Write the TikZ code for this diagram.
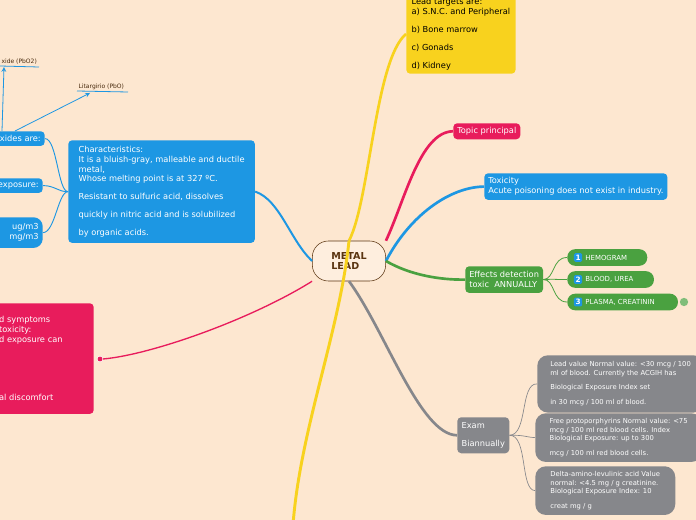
\documentclass[tikz,border=0pt]{standalone}
\usepackage{fontspec}
\setmainfont{DejaVu Sans}
\usetikzlibrary{positioning,calc}
\definecolor{bgc}{HTML}{FDE7D0}
\definecolor{yel}{HTML}{F8D21E}
\definecolor{rd}{HTML}{E81C5C}
\definecolor{bl}{HTML}{1D97E3}
\definecolor{gr}{HTML}{4AA140}
\definecolor{gy}{HTML}{86878B}
\definecolor{brn}{HTML}{5A3410}
\tikzset{
  box/.style={rounded corners=3pt, text=white, font=\fontsize{6.2}{7.4}\selectfont, align=left, anchor=north west, inner sep=3pt},
  pill/.style={rounded corners=6pt, fill=gr, text=white, font=\fontsize{5.2}{6}\selectfont, anchor=west, minimum height=12.5pt, inner xsep=5pt},
  numb/.style={fill=bl, text=white, font=\fontsize{5.5}{6}\selectfont\bfseries, inner sep=1.2pt, rounded corners=1pt},
  gbox/.style={rounded corners=8pt, fill=gy, text=white, font=\fontsize{5.1}{6.2}\selectfont, align=left, anchor=north west, inner sep=4pt}
}
\begin{document}
\begin{tikzpicture}[x=0.75pt,y=-0.75pt]
  \fill[bgc] (0,0) rectangle (696,520);
  \useasboundingbox (0,0) rectangle (696,520);
  \clip (0,0) rectangle (696,520);

  % centre
  \node[draw=brn, fill=bgc!70!white, rounded corners=12pt, minimum width=55pt, minimum height=30pt,
        font=\fontsize{7.2}{8}\selectfont\bfseries, text=brn, align=left] (lead) at (349,261) {METAL\\LEAD};

  % right side
  \node[box, fill=yel, text=black, minimum width=82pt, minimum height=59pt] (targets) at (406,-6)
    {Lead targets are:\\a) S.N.C. and Peripheral\\[6pt]b) Bone marrow\\[6pt]c) Gonads\\[6pt]d) Kidney};
  \node[box, fill=rd, minimum width=49pt, minimum height=12pt] (topic) at (453,123) {Topic principal};
  \node[box, fill=bl, minimum width=135pt, minimum height=20pt] (tox) at (484,173)
    {Toxicity\\Acute poisoning does not exist in industry.};
  \node[box, fill=gr, minimum width=57pt, minimum height=20pt] (eff) at (465,266)
    {Effects detection\\toxic \ ANNUALLY};
  \node[pill, minimum width=60pt] (hemo) at (567,257.5) {};
  \node[numb, right=5pt of hemo.west, anchor=west] (n1) {1};
  \node[right=0pt of n1, text=white, font=\fontsize{5.2}{6}\selectfont, inner sep=2pt] {HEMOGRAM};
  \node[pill, minimum width=65pt] (urea) at (567,279.5) {};
  \node[numb, right=5pt of urea.west, anchor=west] (n2) {2};
  \node[right=0pt of n2, text=white, font=\fontsize{5.2}{6}\selectfont, inner sep=2pt] {BLOOD, UREA};
  \node[pill, minimum width=83pt] (plasma) at (567,302) {};
  \node[numb, right=5pt of plasma.west, anchor=west] (n3) {3};
  \node[right=0pt of n3, text=white, font=\fontsize{5.2}{6}\selectfont, inner sep=2pt] {PLASMA, CREATININ};
  \node[circle, fill=gr!70, inner sep=2.2pt] (globe) at (684,302) {};

  \node[box, fill=gy, minimum width=39pt, minimum height=27pt] (exam) at (457,417) {Exam\\[6pt]Biannually};
  \node[gbox, minimum width=125pt, minimum height=43pt] (lv) at (537,355)
    {Lead value Normal value: <30 mcg / 100\\ml of blood. Currently the ACGIH has\\[5pt]Biological Exposure Index set\\[5pt]in 30 mcg / 100 ml of blood.};
  \node[gbox, minimum width=125pt, minimum height=36pt] (fp) at (535,413)
    {Free protoporphyrins Normal value: <75\\mcg / 100 ml red blood cells. Index\\Biological Exposure: up to 300\\[5pt]mcg / 100 ml red blood cells.};
  \node[gbox, minimum width=105pt, minimum height=35pt] (ala) at (535,466)
    {Delta-amino-levulinic acid Value\\normal: <4.5 mg / g creatinine.\\Biological Exposure Index: 10\\[5pt]creat mg / g};

  % left side
  \node[box, fill=bl, minimum width=140pt, minimum height=77pt] (char) at (68,140)
    {Characteristics:\\It is a bluish-gray, malleable and ductile\\metal,\\Whose melting point is at 327 ºC.\\[6pt]Resistant to sulfuric acid, dissolves\\[6pt]quickly in nitric acid and is solubilized\\[6pt]by organic acids.};
  \node[box, fill=bl, anchor=north east, minimum height=11pt, text width=60pt, align=right] (oxides) at (45,131) {xides are:};
  \node[box, fill=bl, anchor=north east, minimum height=11pt, text width=60pt, align=right] (expo) at (43,178) {exposure:};
  \node[box, fill=bl, anchor=north east, rounded corners=7pt, minimum height=23pt, text width=60pt, align=right] (limits) at (43,217) {ug/m3\hspace*{4pt}\\ mg/m3};
  \node[box, fill=rd, anchor=north east, text width=68pt, minimum height=83pt] (symp) at (94,303)
    {d symptoms\\toxicity:\\d exposure can\\[36pt]al discomfort};
  \node[fill=rd, draw=white, line width=0.3pt, inner sep=2pt, rounded corners=1pt] (note) at (100,359) {};
  \node[font=\fontsize{4.5}{5}\selectfont, text=brn!80!black, anchor=south west, inner sep=1pt] (pbo2) at (0,66) {xide (PbO2)};
  \coordinate (pbo2r) at (39,67);
  \node[font=\fontsize{4.5}{5}\selectfont, text=brn!80!black, anchor=south west, inner sep=1pt] (pbo) at (77,91) {Litargirio (PbO)};
  \coordinate (pbor) at (128,92);
  \coordinate (bottom) at (293,525);

  % connectors
  \draw[yel, line width=2pt] (lead.north) .. controls (370,200) and (375,60) .. (targets.west);
  \draw[yel, line width=2.2pt] (lead.north) .. controls (340,330) and (300,430) .. (bottom);
  \draw[rd, line width=2pt] (lead.north east) .. controls (405,200) and (420,132) .. (topic.west);
  \draw[bl, line width=2pt] (lead.east) .. controls (410,215) and (450,187) .. (tox.west);
  \draw[gr, line width=2pt] (lead.east) .. controls (410,275) and (440,280) .. (eff.west);
  \draw[gy, line width=2pt] (lead.south) .. controls (385,330) and (420,435) .. (exam.west);
  \draw[bl, line width=1.5pt] (lead.west) .. controls (290,240) and (280,200) .. (char.east);
  \draw[rd, line width=1pt] (lead.south west) .. controls (250,320) and (150,355) .. (note.east);
  \foreach \k in {hemo,urea,plasma}
    \draw[gr, line width=0.6pt] (eff.east) .. controls (555,279) and ($(\k.west)+(-15,0)$) .. (\k.west);
  \draw[gy, line width=0.5pt] (exam.east) .. controls (528,435) and (520,383) .. (lv.west);
  \draw[gy, line width=0.5pt] (exam.east) .. controls (525,435) and (525,437) .. (fp.west);
  \draw[gy, line width=0.5pt] (exam.east) .. controls (528,435) and (520,490) .. (ala.west);
  \foreach \k in {oxides,expo,limits}
    \draw[bl, line width=0.7pt] (char.west) .. controls (58,192) and ($(\k.east)+(12,0)$) .. (\k.east);
  \draw[bl, line width=0.6pt] (pbo2.south west) -- (pbo2r);
  \draw[bl, line width=0.6pt] (pbo.south west) -- (pbor);
  \draw[bl, line width=0.6pt, -{stealth}] (2,131) -- (4,67);
  \draw[bl, line width=0.6pt, -{stealth}] (15,131) -- (90,93);
\end{tikzpicture}
\end{document}
